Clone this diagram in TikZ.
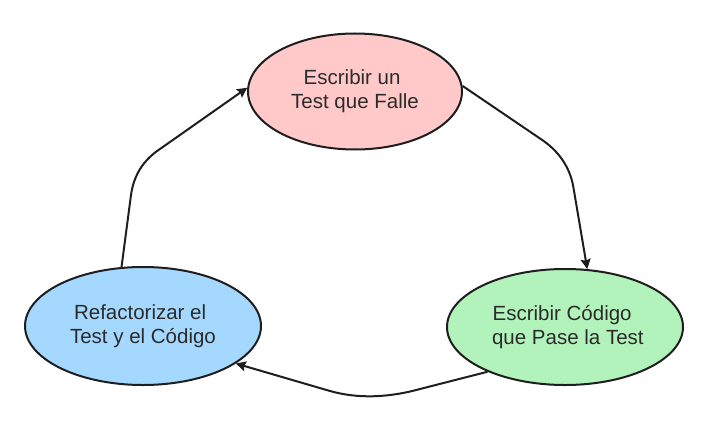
\documentclass[tikz,border=0pt]{standalone}
\usepackage{fontspec}
\setmainfont{Liberation Sans}
\usetikzlibrary{shapes.geometric,arrows.meta}
\definecolor{strokec}{HTML}{1E1E1E}
\definecolor{textc}{HTML}{2B2B2B}
\definecolor{pinkc}{HTML}{FFC9C9}
\definecolor{greenc}{HTML}{B2F2BB}
\definecolor{bluec}{HTML}{A5D8FF}
\tikzset{
  stage/.style={ellipse, draw=strokec, line width=2pt, inner sep=0pt, align=center,
    text=textc, font=\fontsize{20.5}{24}\selectfont},
  conn/.style={draw=strokec, line width=2pt, line join=round,
    -{Stealth[length=10pt,width=10pt,inset=1.5pt]}}
}
\newcommand{\spc}{\hspace*{0.278em}}
\begin{document}
\begin{tikzpicture}[x=1pt,y=-1pt]
\useasboundingbox (0,0) rectangle (722,420);
\node[stage, fill=pinkc, minimum width=214pt, minimum height=116pt] (top) at (355,91.5)
  {Escribir un\spc\\Test que Falle};
\node[stage, fill=greenc, minimum width=236pt, minimum height=116pt] (green) at (565,327)
  {Escribir Código\spc\\\spc que Pase la Test};
\node[stage, fill=bluec, minimum width=236pt, minimum height=118pt] (blue) at (143,326)
  {Refactorizar el\spc\\Test y el Código};
\draw[conn] (top.3) -- (540,138.5) .. controls (558,150.2) and (569,165.7) .. (573,185) -- (green.69);
\draw[conn] (green.210) -- (420,389) .. controls (387.3,398) and (357.3,398.7) .. (330,391) -- (blue.-22);
\draw[conn] (blue.110) -- (131,195) .. controls (133.7,175.3) and (143.3,160) .. (160,149) -- (top.178);
\end{tikzpicture}
\end{document}
